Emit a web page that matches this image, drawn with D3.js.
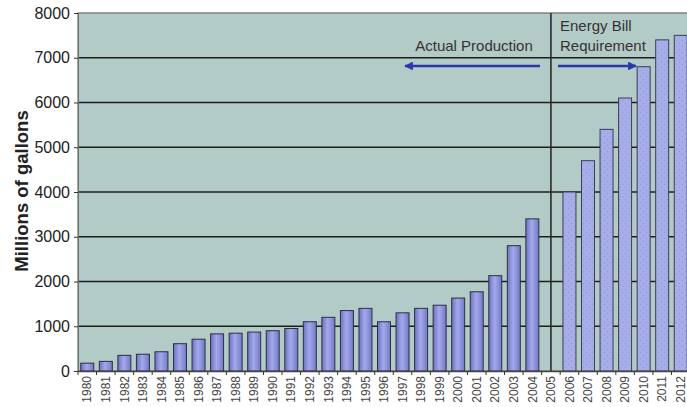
<!DOCTYPE html>
<html>
<head>
<meta charset="utf-8">
<script src="https://cdn.jsdelivr.net/npm/d3@7"></script>
<style>
	body { margin: 0; background: #fff; }
	svg { display: block; font-family: Arial, "Liberation Sans", sans-serif; }
</style>
</head>
<body>
<svg id="chart" width="687" height="407"></svg>
<script>
// years shown along the bottom
var years = d3.range(1980, 2013).map(String);
// actual production, millions of gallons (2005 has no bar)
var actual = [175, 215, 350, 375, 430, 610, 710, 830, 845, 870, 900, 950, 1100, 1200,
	1350, 1400, 1100, 1300, 1400, 1470, 1630, 1770, 2130, 2800, 3400];
var actualYears = years.slice(0, 25);
// energy bill requirement
var required = [4000, 4700, 5400, 6100, 6800, 7400, 7500];
var requiredYears = years.slice(26);
var yTicks = [0, 1000, 2000, 3000, 4000, 5000, 6000, 7000, 8000];

var svg = d3.select('#chart');
var plotL = 78, plotT = 13, plotB = 371, plotR = 690;

var x = d3.scaleBand()
	.domain(years)
	.range([plotL, plotR])
	.paddingInner(0.3)
	.paddingOuter(0.15);

var y = d3.scaleLinear()
	.domain([0, 8000])
	.range([plotB, plotT]);

var defs = svg.append('defs');

// bar shading, dark edges and light middle
var grad = defs.append('linearGradient')
	.attr('id', 'barGrad')
	.attr('x1', '0%').attr('x2', '100%');
grad.append('stop').attr('offset', '0%').attr('stop-color', '#6d72bf');
grad.append('stop').attr('offset', '45%').attr('stop-color', '#a4a9ec');
grad.append('stop').attr('offset', '100%').attr('stop-color', '#7378c6');

// dotted fill for required bars
var pat = defs.append('pattern')
	.attr('id', 'dots')
	.attr('patternUnits', 'userSpaceOnUse')
	.attr('width', 6).attr('height', 6);
pat.append('rect').attr('width', 6).attr('height', 6).attr('fill', '#a7ade8');
pat.append('circle').attr('cx', 1.5).attr('cy', 1.5).attr('r', 0.6).attr('fill', '#8d93d2');
pat.append('circle').attr('cx', 4.5).attr('cy', 4.5).attr('r', 0.6).attr('fill', '#8d93d2');

// plot background
svg.append('rect')
	.attr('x', plotL)
	.attr('y', plotT)
	.attr('width', plotR - plotL)
	.attr('height', plotB - plotT)
	.attr('fill', '#b3cbc7')
	.attr('stroke', '#6e6e6e')
	.attr('stroke-width', 1.2);

// gridlines
svg.append('g')
	.selectAll('line')
	.data(yTicks.slice(1, -1))
	.enter()
	.append('line')
	.attr('x1', plotL)
	.attr('x2', plotR)
	.attr('y1', d => y(d))
	.attr('y2', d => y(d))
	.attr('stroke', '#1e1e1e')
	.attr('stroke-width', 1.6);

// divider at 2005
var divX = x('2005') + x.bandwidth() / 2;
svg.append('line')
	.attr('x1', divX).attr('x2', divX)
	.attr('y1', plotT).attr('y2', plotB)
	.attr('stroke', '#2a2a2a')
	.attr('stroke-width', 1.6);

// actual bars
svg.append('g')
	.selectAll('rect')
	.data(actual)
	.enter()
	.append('rect')
	.attr('x', (d, i) => x(actualYears[i]))
	.attr('y', d => y(d))
	.attr('width', x.bandwidth())
	.attr('height', d => plotB - y(d))
	.attr('fill', 'url(#barGrad)')
	.attr('stroke', '#2e2e45')
	.attr('stroke-width', 1);

// required bars
svg.append('g')
	.selectAll('rect')
	.data(required)
	.enter()
	.append('rect')
	.attr('x', (d, i) => x(requiredYears[i]))
	.attr('y', d => y(d))
	.attr('width', x.bandwidth())
	.attr('height', d => plotB - y(d))
	.attr('fill', 'url(#dots)')
	.attr('stroke', '#3c3c55')
	.attr('stroke-width', 1);

// y axis
var yAxis = svg.append('g')
	.attr('transform', 'translate(' + plotL + ',0)')
	.call(d3.axisLeft(y).tickValues(yTicks).tickFormat(d3.format('d')).tickSize(4).tickPadding(4));
yAxis.select('.domain').attr('stroke', '#6e6e6e');
yAxis.selectAll('.tick line').attr('stroke', '#333');
yAxis.selectAll('text')
	.attr('font-size', 16)
	.attr('fill', '#222');

// x axis
var xAxis = svg.append('g')
	.attr('transform', 'translate(0,' + plotB + ')')
	.call(d3.axisBottom(x).tickSize(0).tickPadding(0));
xAxis.select('.domain').attr('stroke', '#444').attr('stroke-width', 1.5);
xAxis.selectAll('text')
	.attr('font-size', 12)
	.attr('fill', '#444')
	.attr('transform', 'rotate(-90)')
	.attr('text-anchor', 'end')
	.attr('dx', '-5px')
	.attr('dy', '0.35em')
	.attr('y', 0)
	.attr('x', 0);

// small tick marks between categories
svg.append('g')
	.selectAll('line')
	.data(years)
	.enter()
	.append('line')
	.attr('x1', d => x(d) - x.step() * x.paddingInner() / 2)
	.attr('x2', d => x(d) - x.step() * x.paddingInner() / 2)
	.attr('y1', plotB)
	.attr('y2', plotB + 4)
	.attr('stroke', '#333');

// y label
svg.append('text')
	.attr('transform', 'translate(28,191) rotate(-90)')
	.attr('text-anchor', 'middle')
	.attr('font-size', 18.5)
	.attr('font-weight', 'bold')
	.attr('fill', '#222')
	.text('Millions of gallons');

// annotations
svg.append('text')
	.attr('x', 474).attr('y', 51)
	.attr('text-anchor', 'middle')
	.attr('font-size', 15)
	.attr('fill', '#333')
	.text('Actual Production');

svg.append('text')
	.attr('x', 560).attr('y', 31)
	.attr('font-size', 15)
	.attr('fill', '#333')
	.text('Energy Bill');
svg.append('text')
	.attr('x', 560).attr('y', 51)
	.attr('font-size', 15)
	.attr('fill', '#333')
	.text('Requirement');

var marker = defs.append('marker')
	.attr('id', 'arrow')
	.attr('viewBox', '0 0 10 10')
	.attr('refX', 9).attr('refY', 5)
	.attr('markerWidth', 3.5).attr('markerHeight', 3.5)
	.attr('orient', 'auto');
marker.append('path').attr('d', 'M0,0L10,5L0,10z').attr('fill', '#2b36a8');

svg.append('line')
	.attr('x1', 540).attr('x2', 405)
	.attr('y1', 66).attr('y2', 66)
	.attr('stroke', '#2b36a8')
	.attr('stroke-width', 2.5)
	.attr('marker-end', 'url(#arrow)');
svg.append('line')
	.attr('x1', 558).attr('x2', 636)
	.attr('y1', 66).attr('y2', 66)
	.attr('stroke', '#2b36a8')
	.attr('stroke-width', 2.5)
	.attr('marker-end', 'url(#arrow)');
</script>
</body>
</html>
